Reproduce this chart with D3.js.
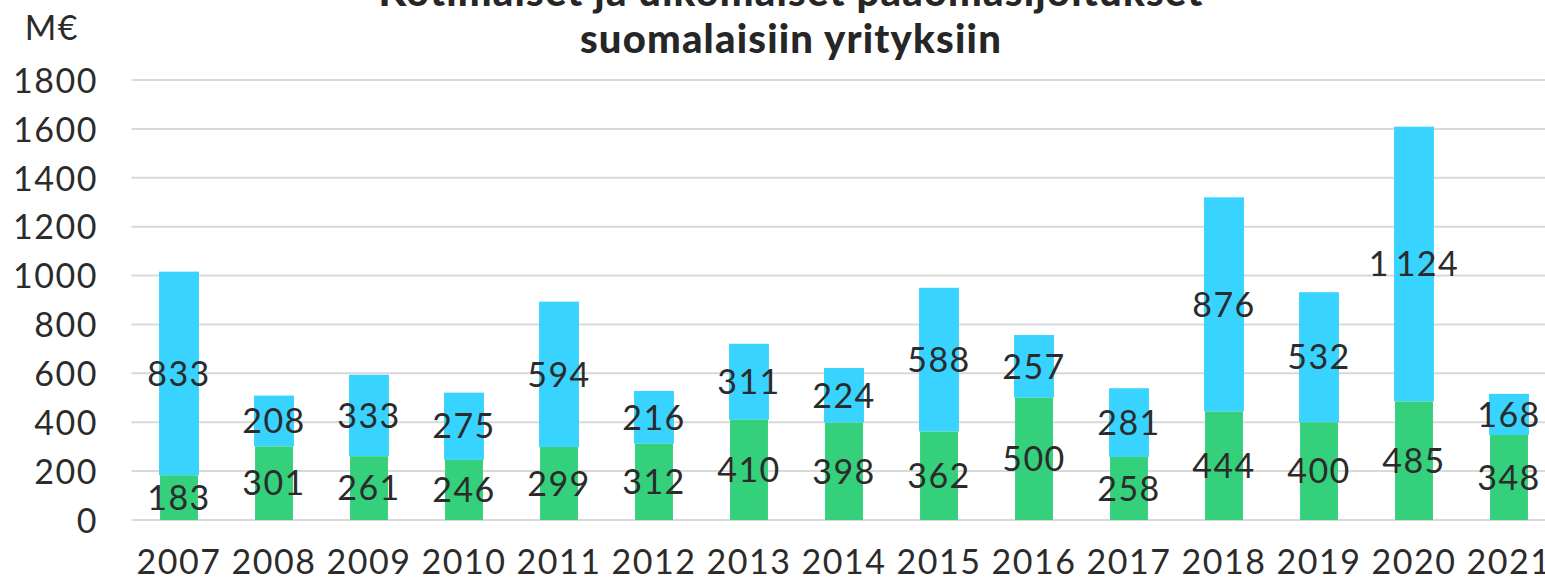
<!DOCTYPE html>
<html>
<head>
  <meta charset="utf-8">
  <title>Sijoitukset suomalaisiin yrityksiin</title>
  <style>
    body { margin: 0; background: #fff; }
    text { font-family: Lato, "Open Sans", sans-serif; fill: #2b2b2b; }
    .grid line { stroke: #d9d9d9; stroke-width: 2px; }
    .title { font-weight: 900; font-size: 40px; letter-spacing: 1.2px; fill: #262626; }
    .num { font-size: 34px; letter-spacing: 1.5px; }
  </style>
  <script src="https://d3js.org/d3.v7.min.js"></script>
</head>
<body>
  <script>
    var years = ['2007','2008','2009','2010','2011','2012','2013','2014','2015','2016','2017','2018','2019','2020','2021'];
    var domestic = [183, 301, 261, 246, 299, 312, 410, 398, 362, 500, 258, 444, 400, 485, 348];
    var foreign = [833, 208, 333, 275, 594, 216, 311, 224, 588, 257, 281, 876, 532, 1124, 168];
    var yTicks = [0, 200, 400, 600, 800, 1000, 1200, 1400, 1600, 1800];
    var titleLines = ['Kotimaiset ja ulkomaiset pääomasijoitukset', 'suomalaisiin yrityksiin'];

    var width = 1545, height = 582;
    var svg = d3.select('body').append('svg')
      .attr('width', width)
      .attr('height', height);

    var x = d3.scaleBand()
      .domain(years)
      .range([131.5, 131.5 + 95 * years.length])
      .paddingInner(0.58)
      .paddingOuter(0.29);

    var y = d3.scaleLinear()
      .domain([0, 1800])
      .range([520, 80]);

    // gridlines
    svg.append('g').attr('class', 'grid')
      .selectAll('line')
      .data(yTicks)
      .enter().append('line')
        .attr('x1', 131.5)
        .attr('x2', width)
        .attr('y1', d => y(d))
        .attr('y2', d => y(d));

    // y axis labels
    var yAxis = d3.axisLeft(y).tickValues(yTicks).tickFormat(d3.format('d')).tickSize(0).tickPadding(0);
    var yg = svg.append('g').attr('transform', 'translate(98,0)').call(yAxis);
    yg.select('.domain').remove();
    yg.selectAll('text')
      .attr('class', 'num')
      .attr('font-size', null)
      .attr('font-family', null)
      .attr('dy', '0.36em');

    svg.append('text')
      .attr('class', 'num')
      .attr('x', 79).attr('y', 40)
      .attr('text-anchor', 'end')
      .text('M€');

    // x axis labels
    var xAxis = d3.axisBottom(x).tickSize(0).tickPadding(0);
    var xg = svg.append('g').attr('transform', 'translate(0,547)').call(xAxis);
    xg.select('.domain').remove();
    xg.selectAll('text')
      .attr('class', 'num')
      .attr('font-size', null)
      .attr('font-family', null)
      .attr('dy', '0.78em');

    var rows = years.map((yr, i) => ({ year: yr, d: domestic[i], f: foreign[i] }));

    // foreign (upper, blue) segments
    svg.append('g').selectAll('rect')
      .data(rows)
      .enter().append('rect')
        .attr('x', d => x(d.year))
        .attr('width', x.bandwidth())
        .attr('y', d => y(d.d + d.f))
        .attr('height', d => y(d.d) - y(d.d + d.f))
        .attr('fill', '#38d3fe');

    // domestic (lower, green) segments
    svg.append('g').selectAll('rect')
      .data(rows)
      .enter().append('rect')
        .attr('x', d => x(d.year) + 1)
        .attr('width', x.bandwidth() - 2)
        .attr('y', d => y(d.d))
        .attr('height', d => y(0) - y(d.d))
        .attr('fill', '#34d07b');

    var fmt = v => v >= 1000 ? d3.format(',')(v).replace(',', '\u2009') : String(v);

    // labels
    var lab = svg.append('g');
    lab.selectAll('.lf')
      .data(rows)
      .enter().append('text')
        .attr('class', 'num')
        .attr('x', d => x(d.year) + x.bandwidth() / 2)
        .attr('y', d => y(d.d + d.f / 2))
        .attr('dy', '0.36em')
        .attr('text-anchor', 'middle')
        .text(d => fmt(d.f));
    lab.selectAll('.ld')
      .data(rows)
      .enter().append('text')
        .attr('class', 'num')
        .attr('x', d => x(d.year) + x.bandwidth() / 2)
        .attr('y', d => y(d.d / 2))
        .attr('dy', '0.36em')
        .attr('text-anchor', 'middle')
        .text(d => fmt(d.d));

    // title (top line is clipped by the page edge, as in the source)
    svg.append('g').selectAll('text')
      .data(titleLines)
      .enter().append('text')
        .attr('class', 'title')
        .attr('x', 791)
        .attr('y', (d, i) => 6 + i * 47)
        .attr('text-anchor', 'middle')
        .text(d => d);
  </script>
</body>
</html>
